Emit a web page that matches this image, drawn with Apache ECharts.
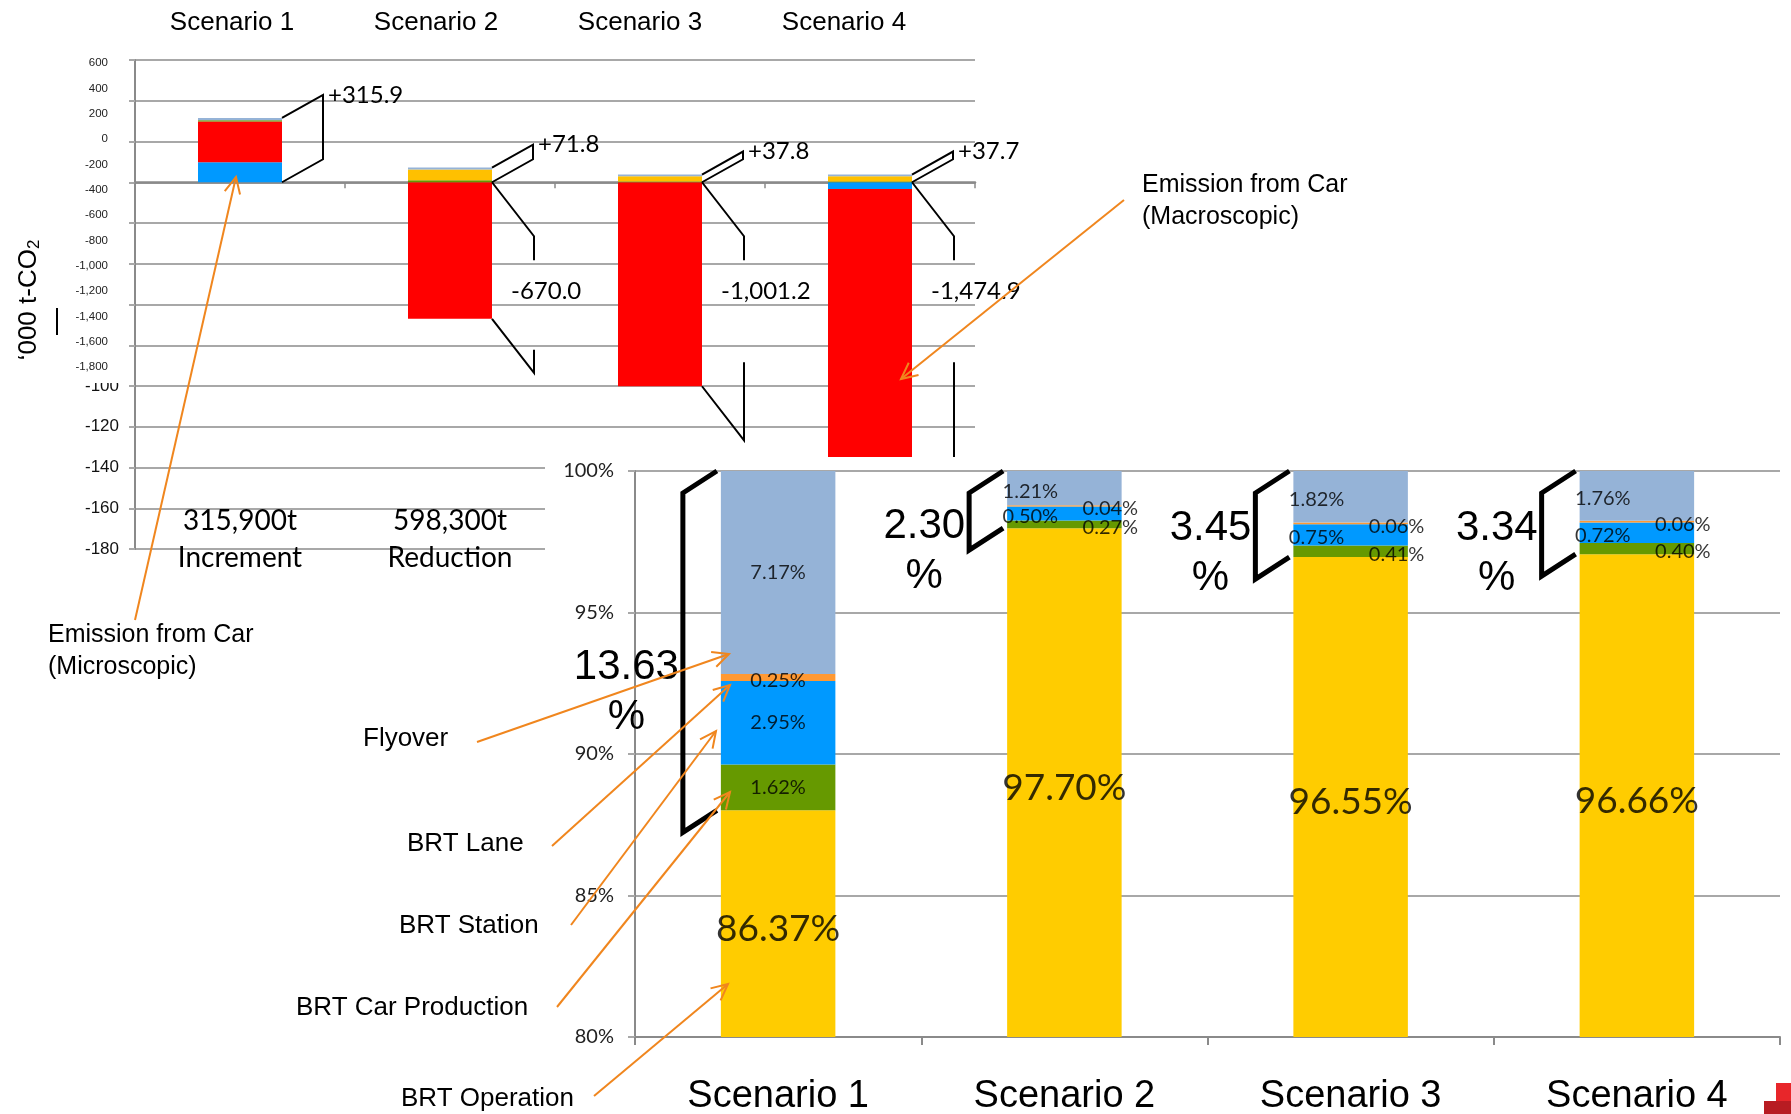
<!DOCTYPE html>
<html><head><meta charset="utf-8">
<script src="https://cdn.jsdelivr.net/npm/echarts@6/dist/echarts.min.js"></script>
<style>html,body{margin:0;padding:0;background:#fff}#c{width:1791px;height:1114px}</style>
</head><body><div id="c"></div>
<script>
// ---------- DATA ----------
const scenarios = ['Scenario 1', 'Scenario 2', 'Scenario 3', 'Scenario 4'];
// upper chart: change in emissions, '000 t-CO2
const topCarMicro   = [98, 0, 0, -33];
const topCarMacro   = [200, -670, -1001.2, -1441.9];
const topCarProd    = [6, 10, 4, 4];
const topOperation  = [0, 52, 26, 26];
const topFlyover    = [11.9, 9.8, 7.8, 7.7];
const topPlusLabels  = ['+315.9', '+71.8', '+37.8', '+37.7'];
const topMinusLabels = ['', '-670.0', '-1,001.2', '-1,474.9'];
const topSummaryLines1 = ['315,900t', '598,300t'];
const topSummaryLines2 = ['Increment', 'Reduction'];
// lower chart: share of BRT-related emissions (%)
const botOperation  = [88.01, 97.98, 96.96, 97.06];
const botCarProd    = [1.62, 0.27, 0.41, 0.40];
const botStation    = [2.95, 0.50, 0.75, 0.72];
const botLane       = [0.25, 0.04, 0.06, 0.06];
const botFlyover    = [7.17, 1.21, 1.82, 1.76];
const botOperationLabels = ['86.37%', '97.70%', '96.55%', '96.66%'];
const botOtherTotals = ['13.63', '2.30', '3.45', '3.34'];
const annotationLabels = ['Flyover', 'BRT Lane', 'BRT Station', 'BRT Car Production', 'BRT Operation'];

// ---------- STYLE ----------
const FS = '"Liberation Sans", Arial, sans-serif';
const FC = 'Lato, Calibri, sans-serif';
const GRID_C = '#A8A8A8', AXIS_C = '#8A8A8A', ORANGE = '#F0861E';

const topSeries = [
  {name: 'Car (Microscopic)', data: topCarMicro, color: '#0099FF'},
  {name: 'Car (Macroscopic)', data: topCarMacro, color: '#FF0000'},
  {name: 'BRT Car Production', data: topCarProd, color: '#669900'},
  {name: 'BRT Operation', data: topOperation, color: '#FFC000'},
  {name: 'Flyover', data: topFlyover, color: '#95B3D7'}
];
const botSeries = [
  {name: 'BRT Operation', data: botOperation, color: '#FFCC00'},
  {name: 'BRT Car Production', data: botCarProd, color: '#669900'},
  {name: 'BRT Station', data: botStation, color: '#0099FF'},
  {name: 'BRT Lane', data: botLane, color: '#FF9933'},
  {name: 'Flyover', data: botFlyover, color: '#95B3D7'}
];
const BOT_MIN = 80, BOT_MAX = 100;

// label points for the lower chart (segment centres)
const labelPts = [];
for (let i = 0; i < scenarios.length; i++) {
  let cum = 0;
  botSeries.forEach((s, k) => {
    const v = s.data[i];
    const lo = cum, hi = cum + v; cum = hi;
    const mid = k === 0 ? (BOT_MIN + hi) / 2 : (lo + hi) / 2;
    let text, fontSize = 20, offset = [0, 0];
    if (k === 0) { text = botOperationLabels[i]; fontSize = 37; offset = [0, 5]; }
    else {
      text = v.toFixed(2) + '%';
      if (i > 0) offset = (k === 2 || k === 4) ? [-34, 3] : [46, 3];
      else if (k === 3) offset = [0, 3];
    }
    labelPts.push({value: [i, mid], label: {formatter: text, fontSize: fontSize, offset: offset}});
  });
}

const chart = echarts.init(document.getElementById('c'), null, {renderer: 'canvas'});

const option = {
  animation: false,
  backgroundColor: '#fff',
  grid: [
    {left: 135, top: 60, width: 840, height: 489, outerBoundsMode: 'none', containLabel: false},
    {left: 135, top: 63, width: 840, height: 304, outerBoundsMode: 'none', containLabel: false},
    {left: 635, top: 471, width: 1145, height: 566, outerBoundsMode: 'none', containLabel: false},
    {left: 130, top: 60, width: 816, height: 489, outerBoundsMode: 'none', containLabel: false}
  ],
  xAxis: [
    {gridIndex: 0, type: 'category', data: scenarios, z: 0,
     axisLine: {onZero: true, lineStyle: {color: AXIS_C, width: 2.5}},
     axisTick: {show: true, length: 6, lineStyle: {color: AXIS_C, width: 1.5}},
     axisLabel: {show: false}, splitLine: {show: false}},
    {gridIndex: 3, type: 'category', data: scenarios, position: 'top', z: 0,
     axisLine: {show: false, onZero: false}, axisTick: {show: false}, splitLine: {show: false},
     axisLabel: {fontSize: 26, color: '#000', fontFamily: FS, margin: 24}},
    {gridIndex: 1, type: 'value', show: false, min: 0, max: 1},
    {gridIndex: 2, type: 'category', data: scenarios, z: 6,
     axisLine: {lineStyle: {color: AXIS_C, width: 2}},
     axisTick: {show: true, length: 8, lineStyle: {color: AXIS_C, width: 2}},
     axisLabel: {fontSize: 38, color: '#000', fontFamily: FS, margin: 41},
     splitLine: {show: false}}
  ],
  yAxis: [
    {gridIndex: 0, type: 'value', min: -1800, max: 600, interval: 200, z: 0,
     axisLine: {show: true, lineStyle: {color: AXIS_C, width: 2}},
     axisTick: {show: true, length: 6, lineStyle: {color: GRID_C, width: 2}},
     splitLine: {show: true, lineStyle: {color: GRID_C, width: 2}},
     axisLabel: {fontSize: 17, color: '#111', fontFamily: FS, margin: 16,
       formatter: v => (v <= -1000 ? String(v / 10) : '')}},
    {gridIndex: 1, type: 'value', min: -1800, max: 600, interval: 200, z: 4,
     axisLine: {show: false}, axisTick: {show: false}, splitLine: {show: false},
     axisLabel: {fontSize: 11.5, color: '#222', fontFamily: FS, margin: 27,
       formatter: v => v.toLocaleString('en-US')}},
    {gridIndex: 2, type: 'value', min: BOT_MIN, max: BOT_MAX, interval: 5, z: 6,
     axisLine: {show: true, lineStyle: {color: AXIS_C, width: 2}},
     axisTick: {show: true, length: 7, lineStyle: {color: GRID_C, width: 2}},
     splitLine: {show: true, lineStyle: {color: GRID_C, width: 2}},
     axisLabel: {fontSize: 20, color: '#222', fontFamily: FC, margin: 21, formatter: '{value}%'}},
    {gridIndex: 3, type: 'value', show: false, min: 0, max: 1}
  ],
  series: [
    ...topSeries.map(s => ({
      type: 'bar', name: s.name, data: s.data, stack: 'top', xAxisIndex: 0, yAxisIndex: 0,
      barWidth: '40%', itemStyle: {color: s.color}, z: 2
    })),
    ...botSeries.map(s => ({
      type: 'bar', name: s.name + ' %', data: s.data, stack: 'bot', xAxisIndex: 3, yAxisIndex: 2,
      barWidth: '40%', itemStyle: {color: s.color}, z: 8
    })),
    {type: 'scatter', xAxisIndex: 3, yAxisIndex: 2, data: labelPts, symbolSize: 1, z: 9,
     itemStyle: {color: 'rgba(0,0,0,0)'},
     label: {show: true, position: 'inside', color: '#000', fontFamily: FC}}
  ]
};
chart.setOption(option);

// ---------- ANNOTATIONS (positions derived from the axes) ----------
const G = [];
function poly(points, color, width, z) {
  G.push({type: 'polyline', silent: true, z: z, shape: {points: points},
          style: {stroke: color, lineWidth: width, fill: null, lineJoin: 'miter', lineCap: 'butt'}});
}
function txt(x, y, str, o) {
  o = o || {};
  G.push({type: 'text', silent: true, z: o.z == null ? 12 : o.z, x: x, y: y, rotation: o.rotation || 0,
    style: {text: str, fill: o.color || '#000', fontSize: o.size || 24, fontFamily: o.family || FS,
      textAlign: o.align || 'left', align: o.align || 'left',
      textVerticalAlign: 'middle', verticalAlign: 'middle', rich: o.rich}});
}
function arrow(x1, y1, x2, y2) {
  const a = Math.atan2(y2 - y1, x2 - x1), L = 18, sp = 0.45;
  poly([[x1, y1], [x2, y2]], ORANGE, 2, 12);
  poly([[x2 - L * Math.cos(a - sp), y2 - L * Math.sin(a - sp)], [x2, y2],
        [x2 - L * Math.cos(a + sp), y2 - L * Math.sin(a + sp)]], ORANGE, 2, 12);
}
const measureCtx = document.createElement('canvas').getContext('2d');
function textWidth(str, font) { measureCtx.font = font; return measureCtx.measureText(str).width; }

// white covers (slide overlays)
G.push({type: 'rect', silent: true, z: 3, shape: {x: 50, y: 50, width: 78, height: 333}, style: {fill: '#fff'}});
G.push({type: 'rect', silent: true, z: 5, shape: {x: 545, y: 457, width: 1246, height: 657}, style: {fill: '#fff'}});

// upper chart brackets and values
const p0 = (i, v) => chart.convertToPixel({seriesIndex: 0}, [i, v]);
const bandT = p0(1, 0)[0] - p0(0, 0)[0];
for (let i = 0; i < scenarios.length; i++) {
  let pos = 0, neg = 0;
  topSeries.forEach(s => { const v = s.data[i]; if (v > 0) pos += v; else neg += v; });
  const [cx, yZero] = p0(i, 0);
  const R = cx + 0.2 * bandT;
  if (pos > 0) {
    const yTop = p0(i, pos)[1];
    poly([[R, yTop], [R + 41, yTop - 23], [R + 41, yZero - 23], [R, yZero]], '#000', 2, 3);
    txt(R + 46, yTop - 23, topPlusLabels[i], {size: 24, family: FC, z: 3});
  }
  if (neg < 0) {
    const yBot = p0(i, neg)[1];
    const gs = yZero + 78, ge = Math.min(yBot + 31, yZero + 180);
    poly([[R, yZero], [R + 42, yZero + 54], [R + 42, gs]], '#000', 2, 3);
    poly([[R + 42, ge], [R + 42, yBot + 54], [R, yBot]], '#000', 2, 3);
    txt(R + 19, yZero + 109, topMinusLabels[i], {size: 24, family: FC, z: 3});
  }
}
for (let i = 0; i < topSummaryLines1.length; i++) {
  const cx = p0(i, 0)[0];
  txt(cx, 521, topSummaryLines1[i], {size: 28, family: FC, align: 'center', z: 3});
  txt(cx, 558, topSummaryLines2[i], {size: 28, family: FC, align: 'center', z: 3});
}
// y title (with the remnant stroke of an older title behind it)
txt(29, 300, '\u2018000 t-CO{sub|2}', {size: 26, rotation: Math.PI / 2, align: 'center', z: 3,
  rich: {sub: {fontSize: 17, fontFamily: FS, fill: '#000', padding: [11, 0, 0, 0]}}});
poly([[57, 308], [57, 335]], '#000', 2, 3);

// lower chart brackets and totals
const p5 = (i, v) => chart.convertToPixel({seriesIndex: 5}, [i, v]);
const bandB = p5(1, 90)[0] - p5(0, 90)[0];
const numFont = '42px "Liberation Sans", Arial, sans-serif';
for (let i = 0; i < scenarios.length; i++) {
  const [cx, y100] = p5(i, BOT_MAX);
  const yYel = p5(i, botOperation[i])[1];
  const L = cx - 0.2 * bandB;
  poly([[L - 4, y100], [L - 38, y100 + 22], [L - 38, yYel + 22], [L - 4, yYel]], '#000', 5, 10);
  const midY = (y100 + yYel) / 2 + 22;
  const numY = ((yYel - y100) > 150 ? midY : Math.min(midY, y100 + 52)) + 5;
  const w = textWidth(botOtherTotals[i], numFont);
  txt(L - 42, numY, botOtherTotals[i], {size: 42, align: 'right', z: 11});
  txt(L - 42 - w / 2, numY + 50, '%', {size: 42, align: 'center', z: 11});
}

// text annotations with arrows
txt(48, 635, 'Emission from Car', {size: 25});
txt(48, 667, '(Microscopic)', {size: 25});
arrow(135, 620, 236, 177);
txt(1142, 185, 'Emission from Car', {size: 25});
txt(1142, 217, '(Macroscopic)', {size: 25});
arrow(1124, 200, 901, 379);

const annPos = [[363, 739], [407, 844], [399, 926], [296, 1008], [401, 1099]];
const arrows = [[477, 742, 729, 654], [552, 846, 730, 685], [571, 925, 716, 731], [557, 1007, 730, 792], [594, 1096, 728, 984]];
annotationLabels.forEach((t, k) => {
  txt(annPos[k][0], annPos[k][1], t, {size: 26});
  arrow(...arrows[k]);
});

// corner logo fragment
G.push({type: 'rect', silent: true, z: 12, shape: {x: 1776, y: 1083, width: 15, height: 18}, style: {fill: '#E8262A'}});
G.push({type: 'rect', silent: true, z: 12, shape: {x: 1764, y: 1101, width: 27, height: 13}, style: {fill: '#B81C22'}});

chart.setOption({graphic: {elements: G}});
</script>
</body></html>
